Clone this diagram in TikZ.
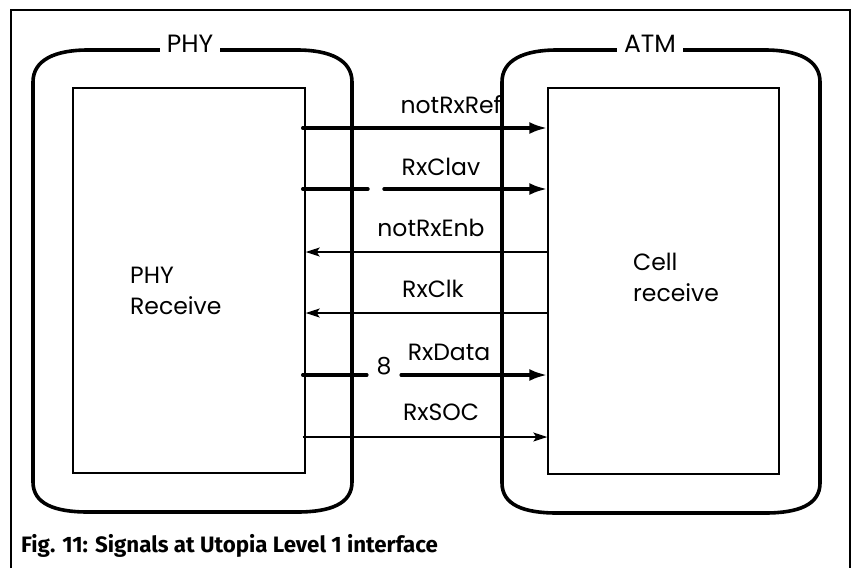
\documentclass[tikz,border=0pt]{standalone}
\usepackage{fontspec}
\newfontfamily\sigfont{Poppins}
\newfontfamily\capfont{Fira Sans}
\usetikzlibrary{arrows.meta}
\newcommand\outerroundbox[4]{%
  \draw[outerbox] (#1+55,#2) -- (#3-55,#2)
    .. controls (#3-22,#2) and (#3,#2+10) .. (#3,#2+32)
    -- (#3,#4-30)
    .. controls (#3,#4-8) and (#3-22,#4) .. (#3-55,#4)
    -- (#1+55,#4)
    .. controls (#1+22,#4) and (#1,#4-8) .. (#1,#4-30)
    -- (#1,#2+32)
    .. controls (#1,#2+10) and (#1+22,#2) .. (#1+55,#2) -- cycle;}
\begin{document}
\begin{tikzpicture}[x=1pt,y=-1pt,
  frame/.style={line width=1.6pt},
  outerbox/.style={line width=3.6pt, line join=round},
  innerbox/.style={draw, line width=1.4pt, inner sep=0pt},
  thicksig/.style={line width=3.4pt, line cap=round},
  thicksigarrow/.style={thicksig, -{Latex[length=18pt,width=12pt]}},
  thinsig/.style={line width=1.2pt, -{Stealth[length=14pt,width=9pt,inset=3pt]}},
  sig/.style={font=\fontsize{23.5}{28}\selectfont\sigfont, anchor=base, inner sep=0pt},
  toplabel/.style={font=\fontsize{25}{30}\selectfont\sigfont, anchor=base, fill=white, inner xsep=7pt, inner ysep=3pt},
  blocklabel/.style={font=\fontsize{23.5}{31}\selectfont\sigfont, align=left, anchor=west, inner sep=0pt}
]
\useasboundingbox (0,0) rectangle (853,568);
\fill[white] (0,0) rectangle (853,568);
% frame
\draw[frame] (11,568) -- (11,10) -- (850,10) -- (850,568);
% outer rounded boxes
\outerroundbox{33}{50}{352}{512}
\outerroundbox{502}{50}{820}{513}
\node[toplabel] (phylbl) at (190,52) {PHY};
\node[toplabel] (atmlbl) at (650,52) {ATM};
% inner boxes
\node[innerbox, minimum width=232pt, minimum height=385pt] (phyin) at (189,280.5) {};
\node[innerbox, minimum width=231pt, minimum height=386pt] (atmin) at (663.5,281) {};
\node[blocklabel] (phytxt) at (130,291) {PHY\\Receive};
\node[blocklabel] (atmtxt) at (633,277) {Cell\\receive};
% signal levels
\coordinate (yref) at (0,128);
\coordinate (yclav) at (0,189);
\coordinate (yenb) at (0,252);
\coordinate (yclk) at (0,313);
\coordinate (ydata) at (0,375);
\coordinate (ysoc) at (0,437);
% notRxRef
\draw[thicksigarrow, shorten <=-3pt] (phyin.east |- yref) -- (atmin.west |- yref);
\node[sig] (lref) at (451,113) {notRxRef};
% RxClav
\coordinate (clavgapa) at (368,189);
\coordinate (clavgapb) at (384,189);
\draw[thicksig, shorten <=-3pt] (phyin.east |- yclav) -- (clavgapa);
\draw[thicksigarrow] (clavgapb) -- (atmin.west |- yclav);
\node[sig] (lclav) at (441,175) {RxClav};
% notRxEnb
\draw[thinsig] (atmin.west |- yenb) -- (phyin.east |- yenb);
\node[sig] (lenb) at (431,236) {notRxEnb};
% RxClk
\draw[thinsig] (atmin.west |- yclk) -- (phyin.east |- yclk);
\node[sig] (lclk) at (433,297) {RxClk};
% RxData
\node[sig, inner xsep=9.5pt] (eight) at (384,374) {8};
\draw[thicksig, shorten <=-3pt] (phyin.east |- ydata) -- (eight.west |- ydata);
\draw[thicksigarrow] (eight.east |- ydata) -- (atmin.west |- ydata);
\node[sig] (ldata) at (449,360) {RxData};
% RxSOC
\draw[thinsig, shorten <=-3pt] (phyin.east |- ysoc) -- (atmin.west |- ysoc);
\node[sig] (lsoc) at (441,420) {RxSOC};
% caption
\node[anchor=base west, inner sep=0pt, font=\fontsize{22.3}{26}\selectfont\capfont\bfseries] (caption) at (21,552) {Fig. 11: Signals at Utopia Level 1 interface};
\end{tikzpicture}
\end{document}
